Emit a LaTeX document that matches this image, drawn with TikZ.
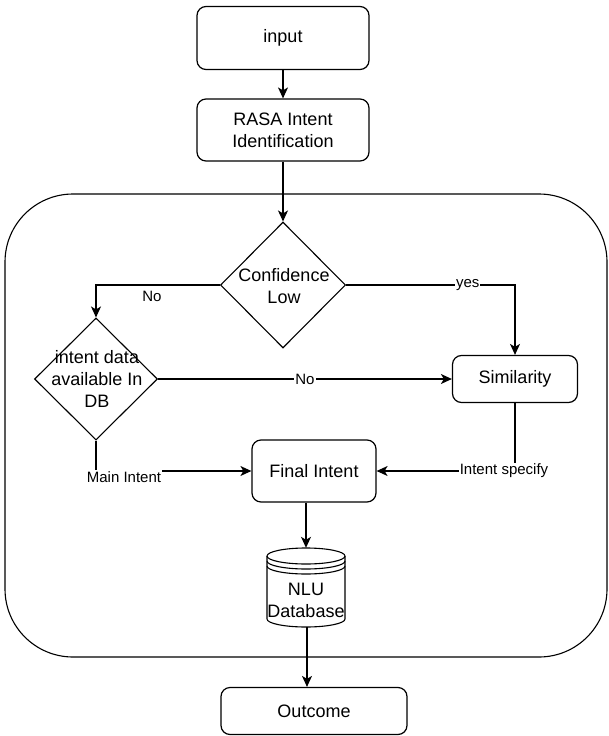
\documentclass[tikz,border=0pt]{standalone}
\usepackage{fontspec}
\setmainfont{Liberation Sans}
\usetikzlibrary{shapes.geometric,arrows.meta}
\tikzset{
  box/.style={draw, rounded corners=9pt, line width=1.2pt, inner sep=0pt, font=\fontsize{18}{22}\selectfont, align=center},
  dia/.style={draw, diamond, line width=1.1pt, inner sep=0pt},
  txt/.style={font=\fontsize{18}{22}\selectfont, align=center, inner sep=0pt},
  lbl/.style={font=\fontsize{15}{18}\selectfont, fill=white, inner sep=1pt},
  conn/.style={line width=1.2pt, -{Stealth[length=11pt,width=10pt,inset=3pt]}},
  plain/.style={line width=1.2pt}
}
\begin{document}
\begin{tikzpicture}[x=1pt,y=1pt]
\useasboundingbox (0,0) rectangle (609,-736);
% container
\draw[line width=1.1pt, rounded corners=68pt] (5,-194) rectangle (607,-657);
% nodes
\node[box, minimum width=172pt, minimum height=63pt] (in) at (283,-38) {input};
\node[box, minimum width=172pt, minimum height=62pt] (rasa) at (283,-130) {RASA Intent\\Identification};
\node[dia, minimum width=125pt, minimum height=126pt] (conf) at (283,-285) {};
\node[txt] (conft) at (284,-286) {Confidence\\Low};
\node[dia, minimum width=123pt, minimum height=122pt] (d2) at (96,-379) {};
\node[txt] (d2t) at (97,-379) {intent data\\available In\\DB};
\node[box, minimum width=125pt, minimum height=47pt] (sim) at (515,-379) {Similarity};
\node[box, minimum width=124pt, minimum height=62pt] (fin) at (314,-471) {Final Intent};
\node[box, minimum width=186pt, minimum height=47pt] (out) at (314,-711) {Outcome};
% cylinder
\node[minimum width=78pt, minimum height=79pt, inner sep=0pt] (cyl) at (306,-587.5) {};
\draw[line width=1.1pt] (267,-556) -- (267,-619) arc[start angle=180,end angle=360,x radius=39pt,y radius=8pt] -- (345,-556);
\draw[line width=1.1pt] (306,-556) ellipse[x radius=39pt,y radius=8pt];
\draw[line width=1.1pt] (267,-561) arc[start angle=180,end angle=360,x radius=39pt,y radius=8pt];
\draw[line width=1.1pt] (267,-566) arc[start angle=180,end angle=360,x radius=39pt,y radius=8pt];
\node[txt] (cylt) at (306,-600) {NLU\\Database};
% connectors
\draw[conn] (in.south) -- (rasa.north);
\draw[conn] (rasa.south) -- (conf.north);
\draw[conn] (conf.west) -| (d2.north);
\node[lbl, fill=none] (lno1) at (152,-296) {No};
\draw[conn] (conf.east) -| (sim.north) node[lbl, pos=0.36] (lyes) {yes};
\draw[conn] (d2.east) -- (sim.west) node[lbl, pos=0.5] (lno2) {No};
\coordinate (c1) at (96,-471);
\draw[conn] (d2.south) -- (c1) -- (fin.west);
\node[lbl] (lmain) at (124,-477) {Main Intent};
\coordinate (c2) at (515,-471);
\draw[conn] (sim.south) -- (c2) -- (fin.east);
\node[lbl] (lspec) at (504,-471) {Intent specify};
\draw[conn] (cyl.north |- fin.south) -- (cyl.north);
\draw[conn] ([xshift=1pt]cyl.south) -- ([xshift=1pt]cyl.south |- out.north);
\end{tikzpicture}
\end{document}
